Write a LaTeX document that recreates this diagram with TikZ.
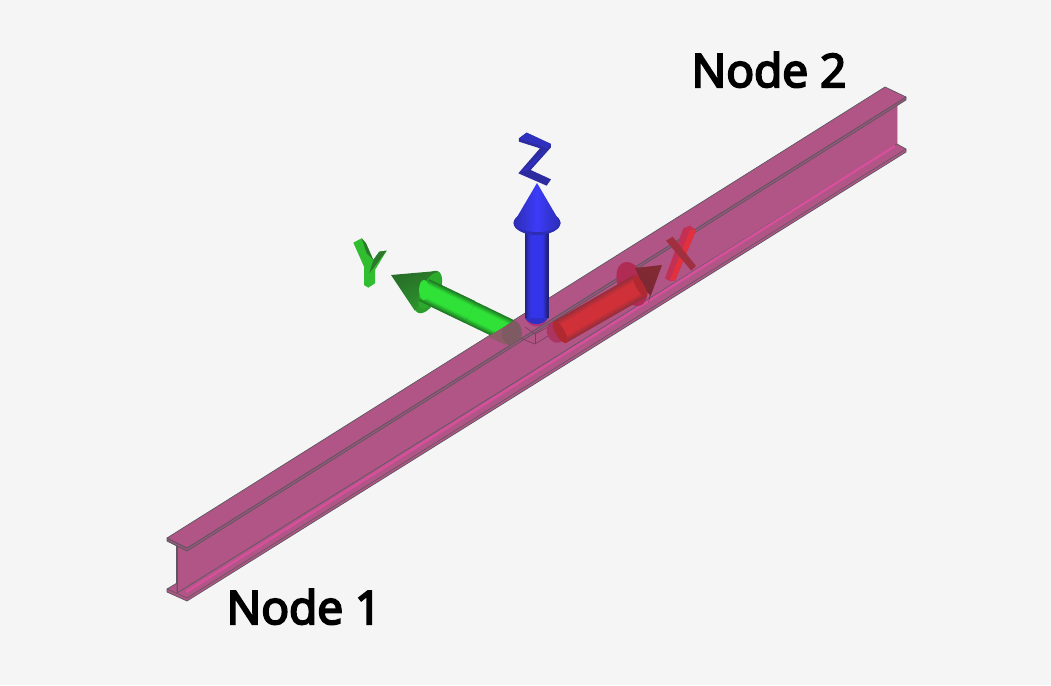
\documentclass[tikz,border=0pt]{standalone}
\usepackage{fontspec}
\setmainfont{Open Sans}
\newfontfamily\labelfont[FakeBold=4.5]{Open Sans}
\definecolor{bgc}{HTML}{F5F5F5}
\definecolor{beam}{HTML}{B05585}
\definecolor{flangeedge}{HTML}{96587A}
\definecolor{edgec}{HTML}{5E5560}
\definecolor{hilite}{HTML}{D4509A}
\definecolor{greendim}{HTML}{8F5C6A}
\definecolor{greendimb}{HTML}{7E5A62}
\definecolor{greenbright}{HTML}{30E238}
\definecolor{greenedge}{HTML}{1F7A24}
\definecolor{greendisc}{HTML}{2C9E2C}
\definecolor{greendisci}{HTML}{2CAA2C}
\definecolor{greenconeA}{HTML}{286E28}
\definecolor{greenconeB}{HTML}{2C962C}
\definecolor{blueedge}{HTML}{22227E}
\definecolor{bluebright}{HTML}{3434E8}
\definecolor{bluecone}{HTML}{2D2DB4}
\definecolor{bluedisc}{HTML}{3C3CFA}
\definecolor{blueglyph}{HTML}{2C2CA0}
\definecolor{blueglyphb}{HTML}{3030BE}
\definecolor{tipmix}{HTML}{AA3278}
\definecolor{redback}{HTML}{AC3460}
\definecolor{redA}{HTML}{962E3C}
\definecolor{redM}{HTML}{D03038}
\definecolor{reddisc}{HTML}{B02C54}
\definecolor{redconeA}{HTML}{822A34}
\definecolor{redconeB}{HTML}{782832}
\definecolor{xside}{HTML}{C43054}
\definecolor{xface}{HTML}{E2303C}
\definecolor{xdark}{HTML}{A03040}
\definecolor{yface}{HTML}{30BE30}
\definecolor{ydark}{HTML}{2C782C}
\tikzset{
  beamface/.style={fill=beam,draw=edgec,line width=0.7pt,line join=round},
  nodelabel/.style={font=\labelfont\fontsize{46}{46}\selectfont,text=black,inner sep=0pt,anchor=base},
  boxline/.style={draw=beam!70!black,line width=0.6pt}
}
% cylinder look: layered strokes from edge colour to core colour
\newcommand{\tubeline}[5]{% width, edge colour, core colour, start, end
  \foreach \f in {100,90,...,10}{
    \pgfmathsetmacro{\mixv}{min(100,(100-\f)*2.2)}
    \pgfmathsetmacro{\widv}{#1*\f/100}
    \draw[line width=\widv pt,color=#3!\mixv!#2] #4 -- #5;
  }
}
\begin{document}
\begin{tikzpicture}[x=1pt,y=-1pt]
\useasboundingbox (0,0) rectangle (1051,685);
\fill[bgc] (0,0) rectangle (1051,685);
% web
\fill[beam] (177,545) -- (897,100) -- (897,144) -- (177,593) -- cycle;
\draw[edgec,line width=1.2pt] (177,546) -- (177,593);
\draw[black!25,line width=0.8pt] (897,103) -- (897,144);
% bottom flange
\draw[beamface] (167,589) -- (177,583) -- (177,593) -- (897,144) -- (906,149) -- (906,152) -- (187,601) -- (167,592) -- cycle;
\draw[edgec,line width=0.6pt] (167,589) -- (187,598) -- (906,149);
\draw[hilite,line width=2.6pt] (186,592) -- (895,146);
% top flange
\draw[fill=flangeedge,draw=edgec,line width=0.7pt,line join=round] (167,538) -- (167,541) -- (187,551) -- (906,100) -- (906,97) -- (187,548) -- cycle;
\draw[beamface] (167,538) -- (885,87) -- (906,97) -- (187,548) -- cycle;
% origin box
\draw[boxline] (513,335) -- (535,344) -- (548,336);
\draw[boxline] (535,344) -- (535,334);
\draw[boxline] (525,327) -- (535,334) -- (548,327);
% green axis, dim part inside beam
\begin{scope}
\clip (167,538) -- (885,87) -- (906,97) -- (187,548) -- cycle;
\draw[greendim,line width=24pt] (480,320) -- (511,334);
\fill[greendimb] (512,333) ellipse [x radius=10pt,y radius=13pt];
\end{scope}
% green shaft, cut along the beam's back edge
\begin{scope}
\clip (167,538) -- (885,87) -- (885,0) -- (167,0) -- cycle;
\tubeline{24}{greenedge}{greenbright}{(424,290)}{(511,332)}
\end{scope}
% green cone
\fill[greendisc,rotate around={64:(428,292)}] (428,292) ellipse [x radius=23pt,y radius=11pt];
\shade[left color=greenconeA,right color=greenconeB,shading angle=25]
  (391,275) -- (437,271) -- (426,293) -- (415,311) -- cycle;
\fill[greendisci,rotate around={64:(428,292)}] (430,293) ellipse [x radius=20pt,y radius=8pt];
\tubeline{24}{greenedge}{greenbright}{(424,290)}{(470,312)}
\fill[greenbright] (424,290) ellipse [x radius=5pt,y radius=10pt];
% blue axis
\fill[tipmix] (525,318) .. controls (530,329) and (543,329) .. (548,318) -- cycle;
\tubeline{24}{blueedge}{bluebright}{(536.5,233)}{(536.5,318)}
\fill[bluebright!70!blueedge] (525,318) .. controls (530,326) and (543,326) .. (548,318) -- cycle;
\fill[bluecone] (537,223) ellipse [x radius=23.5pt,y radius=12pt];
\shade[left color=bluecone,right color=bluecone,middle color=bluedisc]
  (513.5,223) -- (537,183) -- (560.5,223) .. controls (556,235) and (518,235) .. (513.5,223) -- cycle;
% red axis
\fill[redback,rotate around={-68:(556,332)}] (556,332) ellipse [x radius=11pt,y radius=9pt];
\fill[reddisc,rotate around={-68:(632,284)}] (632,284) ellipse [x radius=23pt,y radius=14pt];
\shade[left color=redconeA,right color=redconeB,shading angle=-30]
  (662,265) -- (635,268) -- (645,290) -- (650,295) -- (648,303) -- cycle;
\tubeline{25}{redA}{redM}{(560,332)}{(640,286)}
\fill[redM!85!black,rotate around={-60:(560,332)}] (560,332) ellipse [x radius=12.5pt,y radius=4.5pt];
\fill[redM!85!black,rotate around={-60:(640,286)}] (640,286) ellipse [x radius=12.5pt,y radius=4pt];
% Z glyph
\begin{scope}[shift={(340,120)},x=0.3333pt,y=-0.3333pt]
\fill[blueglyph] (537,55) -- (560,38) -- (633,72) -- (633,82) -- (572,150) -- (633,178) -- (620,197) -- (535,160) -- (600,85) -- (537,65) -- cycle;
\fill[blueglyphb] (537,55) -- (560,38) -- (633,72) -- (620,85) -- cycle;
\fill[blueglyphb] (620,85) -- (633,72) -- (565,150) -- (545,155) -- cycle;
% Y glyph
\fill[yface] (40,368) -- (65,355) -- (78,370) -- (100,420) -- (118,395) -- (140,392) -- (105,450) -- (105,490) -- (85,503) -- (72,495) -- (72,440) -- cycle;
\fill[ydark] (140,392) -- (88,460) -- (100,420) -- (118,395) -- cycle;
\fill[ydark] (65,355) -- (78,370) -- (100,420) -- (80,400) -- cycle;
\end{scope}
% X glyph
\begin{scope}[shift={(490,210)},x=0.3333pt,y=-0.3333pt]
\fill[xside] (580,55) -- (600,47) -- (618,60) -- (555,212) -- (540,213) -- (525,205) -- cycle;
\fill[xface] (600,60) -- (618,60) -- (555,212) -- (540,210) -- cycle;
\fill[xdark] (528,92) -- (548,80) -- (618,168) -- (604,182) -- cycle;
\end{scope}
% labels
\node[nodelabel] (node1) at (304,624) {Node 1};
\node[nodelabel] (node2) at (769,87) {Node 2};
\end{tikzpicture}
\end{document}
